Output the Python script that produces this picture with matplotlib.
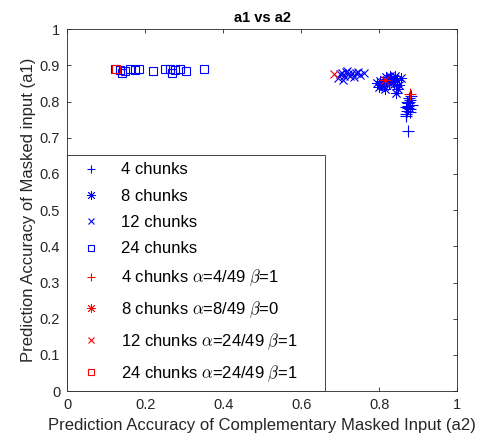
import matplotlib
matplotlib.use("Agg")
import matplotlib.pyplot as plt

plt.rcParams['font.family'] = ['Liberation Sans', 'DejaVu Sans']
plt.rcParams['mathtext.fontset'] = 'cm'

# ---------------- data ----------------
a2_4 = [0.875, 0.870, 0.880, 0.872, 0.878, 0.868, 0.883, 0.874, 0.871, 0.879, 0.876, 0.869, 0.882, 0.873, 0.877, 0.875]
a1_4 = [0.720, 0.760, 0.770, 0.775, 0.780, 0.785, 0.790, 0.795, 0.800, 0.805, 0.810, 0.765, 0.815, 0.788, 0.798, 0.782]

a2_8 = [0.795, 0.800, 0.805, 0.810, 0.815, 0.820, 0.825, 0.830, 0.835, 0.840, 0.845, 0.850, 0.855, 0.803, 0.812, 0.828, 0.838, 0.848, 0.818, 0.842]
a1_8 = [0.850, 0.840, 0.845, 0.855, 0.835, 0.860, 0.850, 0.865, 0.855, 0.870, 0.860, 0.845, 0.865, 0.858, 0.842, 0.870, 0.848, 0.835, 0.868, 0.825]

a2_12 = [0.695, 0.700, 0.705, 0.710, 0.715, 0.720, 0.725, 0.730, 0.740, 0.750, 0.760, 0.708, 0.718, 0.735, 0.745]
a1_12 = [0.865, 0.875, 0.880, 0.870, 0.882, 0.876, 0.872, 0.880, 0.878, 0.874, 0.880, 0.860, 0.885, 0.868, 0.883]

a2_24 = [0.123, 0.136, 0.149, 0.162, 0.174, 0.185, 0.221, 0.251, 0.264, 0.277, 0.290, 0.305, 0.351, 0.140, 0.270]
a1_24 = [0.890, 0.888, 0.885, 0.890, 0.887, 0.890, 0.884, 0.890, 0.889, 0.886, 0.890, 0.885, 0.890, 0.878, 0.880]

# special settings (red)
a2_red = [0.880, 0.815, 0.685, 0.125]
a1_red = [0.820, 0.860, 0.875, 0.890]

labels = ['4 chunks', '8 chunks', '12 chunks', '24 chunks',
          r'4 chunks $\alpha$=4/49 $\beta$=1',
          r'8 chunks $\alpha$=8/49 $\beta$=0',
          r'12 chunks $\alpha$=24/49 $\beta$=1',
          r'24 chunks $\alpha$=24/49 $\beta$=1']

# matlab-like markers: plus, 8-arm asterisk, cross, open square
markers = ['+', (8, 2, 0), 'x', 's']
sizes = [8, 8, 6, 6]
widths = [0.8, 0.6, 0.8, 0.8]

# ---------------- figure ----------------
fig = plt.figure(figsize=(4.9, 4.42), dpi=100)
ax = fig.add_axes([0.137, 0.115, 0.796, 0.819])

blue = '#0000ff'
red = '#ff0000'

blue_x = [a2_4, a2_8, a2_12, a2_24]
blue_y = [a1_4, a1_8, a1_12, a1_24]
for i in range(4):
    ax.plot(blue_x[i], blue_y[i], linestyle='none', marker=markers[i], color=blue,
            ms=sizes[i], mew=widths[i], mfc='none', label=labels[i])

for i in range(4):
    ax.plot(a2_red[i], a1_red[i], linestyle='none', marker=markers[i], color=red,
            ms=sizes[i], mew=widths[i], mfc='none', label=labels[4 + i])

ax.set_xlim(0, 1)
ax.set_ylim(0, 1)
ax.set_xticks([0, 0.2, 0.4, 0.6, 0.8, 1])
ax.set_xticklabels(['0', '0.2', '0.4', '0.6', '0.8', '1'])
ax.set_yticks([i / 10 for i in range(11)])
ax.set_yticklabels(['0'] + ['0.%d' % i for i in range(1, 10)] + ['1'])
ax.tick_params(direction='in', top=True, right=True, length=3, width=0.6,
               colors='#262626', labelsize=10.5, pad=5)
for sp in ax.spines.values():
    sp.set_color('#262626')
    sp.set_linewidth(0.6)

ax.set_title('a1 vs a2', fontsize=10.5, fontweight='bold', pad=5)
ax.set_xlabel('Prediction Accuracy of Complementary Masked Input (a2)', fontsize=12, color='#262626', labelpad=4)
ax.set_ylabel('Prediction Accuracy of Masked input (a1)', fontsize=12, color='#262626', labelpad=3)

leg = ax.legend(loc='lower left', bbox_to_anchor=(0, 0, 0.662, 0.652), mode='expand',
                fontsize=12, frameon=True, fancybox=False, markerscale=0.8,
                edgecolor='#262626', framealpha=1, borderaxespad=0,
                labelspacing=0.68, handletextpad=0.8, borderpad=0.45,
                handlelength=2.0)
leg.get_frame().set_linewidth(0.6)

fig.savefig('out.png', dpi=100)
